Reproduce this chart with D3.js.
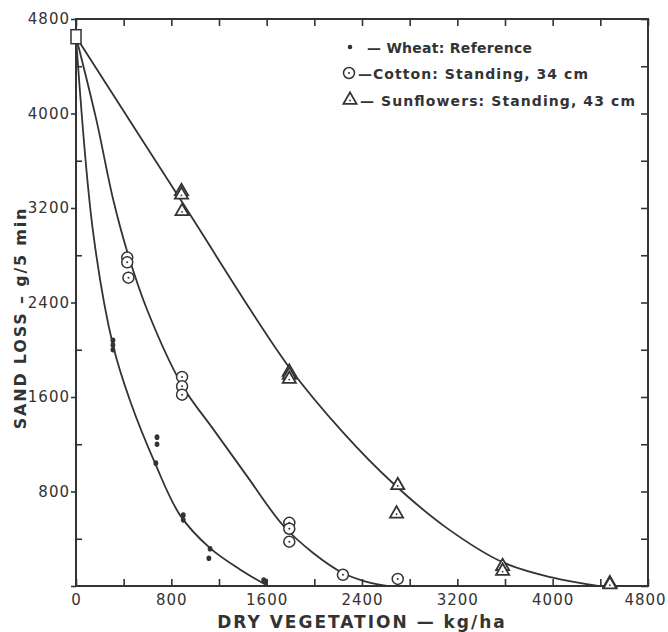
<!DOCTYPE html>
<html>
<head>
<meta charset="utf-8">
<script src="https://cdn.jsdelivr.net/npm/d3@7"></script>
<style>
  body { margin: 0; background: #fff; }
  text { font-family: "DejaVu Sans", "Liberation Sans", sans-serif; fill: #333; }
</style>
</head>
<body>
<svg width="668" height="632"></svg>
<script>
// measured points, [kg/ha, g/5 min]
var originPoint = [[0, 4650]];

var wheatPoints = [
  [310, 2080], [310, 2040], [310, 2000],
  [680, 1260], [680, 1200], [670, 1040],
  [900, 600], [900, 560],
  [1125, 315], [1115, 235],
  [1575, 50], [1590, 40]
];
var cottonPoints = [
  [430, 2780], [430, 2740], [440, 2610],
  [890, 1770], [890, 1690], [890, 1620],
  [1790, 535], [1790, 485], [1790, 375],
  [2240, 95],
  [2700, 60]
];
var sunflowerPoints = [
  [885, 3350], [885, 3320], [890, 3180],
  [1790, 1820], [1790, 1795], [1790, 1760],
  [2700, 860], [2690, 620],
  [3580, 175], [3580, 135],
  [4480, 30], [4480, 20]
];

// fitted curves
var wheatCurve = [[0, 4650], [143, 3000], [310, 2040], [453, 1570], [663, 1040],
  [873, 600], [1125, 320], [1376, 140], [1611, 0]];
var cottonCurve = [[0, 4650], [170, 3950], [310, 3280], [430, 2830], [600, 2330],
  [890, 1700], [1150, 1330], [1435, 930], [1740, 510], [1990, 280], [2240, 110],
  [2440, 35], [2610, 0]];
var sunflowerCurve = [[0, 4650], [890, 3250], [1790, 1850], [2250, 1290], [2660, 870],
  [3113, 490], [3583, 200], [4003, 70], [4380, 0]];

var tickValues = d3.range(0, 4801, 400);
var labelValues = d3.range(0, 4801, 800);
var legendLabels = ['\u2014 Wheat: Reference', '\u2014Cotton: Standing, 34 cm', '\u2014 Sunflowers: Standing, 43 cm'];

var ink = '#333';
var svg = d3.select('svg');

var x = d3.scaleLinear().domain([0, 4800]).range([76, 648]);
var y = d3.scaleLinear().domain([0, 4800]).range([586, 19]);

var fmt = function(d) { return d % 800 === 0 ? d : ''; };
var minorOnly = tickValues.filter(function(d) { return d % 800 !== 0; });

// frame
svg.append('rect')
  .attr('x', x(0)).attr('y', y(4800))
  .attr('width', x(4800) - x(0)).attr('height', y(0) - y(4800))
  .attr('fill', 'none').attr('stroke', ink).attr('stroke-width', 2);

var styleAxis = function(g) {
  g.select('.domain').remove();
  g.selectAll('line').attr('stroke', ink).attr('stroke-width', 1.6);
  g.selectAll('text').attr('font-size', 15).attr('letter-spacing', 1).attr('fill', ink);
};

svg.append('g').attr('transform', 'translate(0,' + y(0) + ')')
  .call(d3.axisBottom(x).tickValues(tickValues).tickFormat(fmt).tickSize(-7).tickPadding(8))
  .call(styleAxis)
  .selectAll('text').attr('y', 8).attr('dy', '0.71em')
  .attr('dx', function(d) { return d === 4800 ? -3 : 0; });

svg.append('g').attr('transform', 'translate(0,' + y(4800) + ')')
  .call(d3.axisTop(x).tickValues(tickValues).tickFormat('').tickSize(-7))
  .call(styleAxis);

svg.append('g').attr('transform', 'translate(' + x(4800) + ',0)')
  .call(d3.axisRight(y).tickValues(tickValues).tickFormat('').tickSize(-7))
  .call(styleAxis);

svg.append('g').attr('transform', 'translate(' + x(0) + ',0)')
  .call(d3.axisLeft(y).tickValues(labelValues).tickFormat(fmt).tickSize(5).tickPadding(1))
  .call(styleAxis)
  .selectAll('text').filter(function(d) { return d === 0; }).remove();

svg.append('g').attr('transform', 'translate(' + x(0) + ',0)')
  .call(d3.axisLeft(y).tickValues(minorOnly).tickFormat('').tickSize(-6))
  .call(styleAxis);

// axis titles
svg.append('text')
  .attr('x', 362).attr('y', 628)
  .attr('text-anchor', 'middle')
  .attr('font-size', 17).attr('font-weight', 'bold').attr('letter-spacing', 2)
  .text('DRY VEGETATION \u2014 kg/ha');

svg.append('text')
  .attr('transform', 'translate(26,318) rotate(-90)')
  .attr('text-anchor', 'middle')
  .attr('font-size', 16).attr('font-weight', 'bold').attr('letter-spacing', 1.8)
  .text('SAND LOSS \u2013 g/5 min');

// curves
var line = d3.line()
  .x(function(d) { return x(d[0]); })
  .y(function(d) { return y(d[1]); })
  .curve(d3.curveCatmullRom.alpha(0.5));

[wheatCurve, cottonCurve, sunflowerCurve].forEach(function(c) {
  svg.append('path').datum(c)
    .attr('d', line)
    .attr('fill', 'none').attr('stroke', ink).attr('stroke-width', 1.8);
});

// markers
var tri = d3.symbol().type(d3.symbolTriangle).size(75);

var drawTriangle = function(sel) {
  sel.append('path').attr('d', tri)
    .attr('transform', 'translate(0,1)')
    .attr('fill', '#fff').attr('stroke', ink).attr('stroke-width', 1.8);
  sel.append('circle').attr('r', 0.9).attr('cy', 1.5).attr('fill', ink);
};
var drawCircle = function(sel) {
  sel.append('circle').attr('r', 5.5)
    .attr('fill', '#fff').attr('stroke', ink).attr('stroke-width', 1.5);
  sel.append('circle').attr('r', 1).attr('fill', ink);
};

svg.selectAll('.wheat').data(wheatPoints).enter()
  .append('ellipse').attr('class', 'wheat')
  .attr('cx', function(d) { return x(d[0]); })
  .attr('cy', function(d) { return y(d[1]); })
  .attr('rx', 2.4).attr('ry', 2.8).attr('fill', ink);

svg.selectAll('.cotton').data(cottonPoints).enter()
  .append('g').attr('class', 'cotton')
  .attr('transform', function(d) { return 'translate(' + x(d[0]) + ',' + y(d[1]) + ')'; })
  .call(drawCircle);

svg.selectAll('.sun').data(sunflowerPoints).enter()
  .append('g').attr('class', 'sun')
  .attr('transform', function(d) { return 'translate(' + x(d[0]) + ',' + y(d[1]) + ')'; })
  .call(drawTriangle);

svg.selectAll('.origin').data(originPoint).enter()
  .append('rect').attr('class', 'origin')
  .attr('x', function(d) { return x(d[0]) - 5; })
  .attr('y', function(d) { return y(d[1]) - 7; })
  .attr('width', 10).attr('height', 14)
  .attr('fill', '#fff').attr('stroke', ink).attr('stroke-width', 1.5);

// legend
var legend = svg.append('g').attr('font-weight', 'bold');
var legendY = [47, 73, 100];
var legendX = [367, 358, 360];
var legendW = [165, 230, 275];

legend.append('circle').attr('cx', 350).attr('cy', legendY[0]).attr('r', 2.3).attr('fill', ink);
legend.append('g').attr('transform', 'translate(349,' + legendY[1] + ')').call(drawCircle);
legend.append('g').attr('transform', 'translate(350,' + (legendY[2] - 1) + ')').call(drawTriangle);

legend.selectAll('text').data(legendLabels).enter()
  .append('text')
  .attr('x', function(d, i) { return legendX[i]; })
  .attr('y', function(d, i) { return legendY[i] + 6; })
  .attr('font-size', 14)
  .attr('textLength', function(d, i) { return legendW[i]; })
  .attr('lengthAdjust', 'spacing')
  .text(function(d) { return d; });
</script>
</body>
</html>
